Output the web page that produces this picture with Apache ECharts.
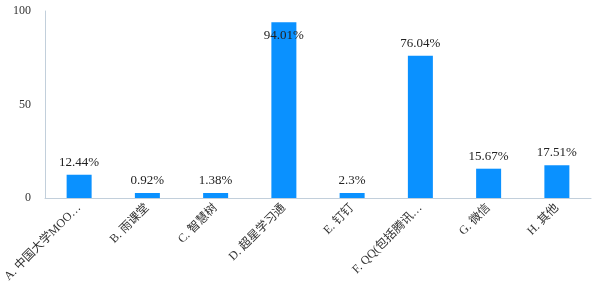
<!DOCTYPE html>
<html><head><meta charset="utf-8">
<script src="https://cdn.jsdelivr.net/npm/echarts@6/dist/echarts.min.js"></script>
<style>html,body{margin:0;padding:0;background:#fff}#c{width:600px;height:300px}</style>
</head><body><div id="c"></div>
<script>
var categories = ['A. 中国大学MOO…', 'B. 雨课堂', 'C. 智慧树', 'D. 超星学习通', 'E. 钉钉', 'F. QQ(包括腾讯…', 'G. 微信', 'H. 其他'];
var values = [12.44, 0.92, 1.38, 94.01, 2.3, 76.04, 15.67, 17.51];
var yTicks = [0, 50, 100];
var font = '"Liberation Serif", "Times New Roman", "Noto Sans CJK SC", serif';
var chart = echarts.init(document.getElementById('c'));
chart.setOption({
  animation: false,
  grid: {left: 45, right: 9, top: 11, bottom: 102},
  xAxis: {
    type: 'category', data: categories,
    axisLine: {lineStyle: {color: '#C2CFDB'}},
    axisTick: {lineStyle: {color: '#C2CFDB'}, length: 5},
    axisLabel: {rotate: 45, interval: 0, fontFamily: font, fontSize: 12, color: '#333', margin: 8}
  },
  yAxis: {
    type: 'value', min: yTicks[0], max: yTicks[yTicks.length - 1], interval: 50,
    axisLine: {show: true, lineStyle: {color: '#C2CFDB'}},
    axisTick: {show: false},
    splitLine: {show: false},
    axisLabel: {fontFamily: font, fontSize: 12, color: '#333', margin: 14}
  },
  series: [{
    type: 'bar', barWidth: 25, barMinHeight: 5,
    itemStyle: {color: '#0A91FF'},
    data: values.map(function (v) {
      var d = {value: v};
      if (v > 90) d.label = {position: 'insideTop', distance: 7};
      return d;
    }),
    label: {show: true, position: 'top', distance: 6, formatter: '{c}%', fontFamily: font, fontSize: 13, color: '#222'}
  }]
});
</script></body></html>
